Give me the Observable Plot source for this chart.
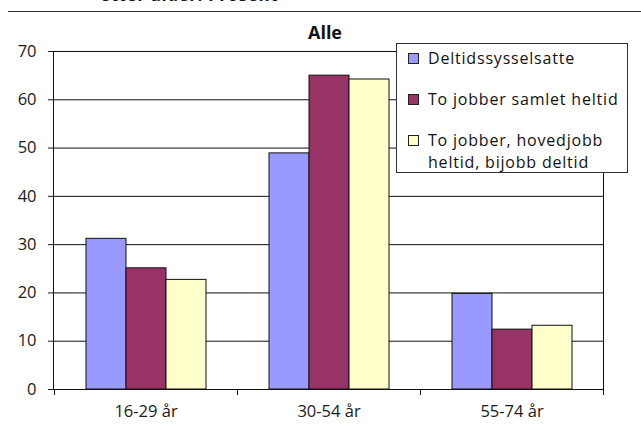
<!DOCTYPE html>
<html>
<head>
<meta charset="utf-8">
<script src="https://cdn.jsdelivr.net/npm/d3@7"></script>
<script src="https://cdn.jsdelivr.net/npm/@observablehq/plot@0.6"></script>
<style>
  html, body { margin: 0; padding: 0; background: #fff; }
  #wrap { position: relative; width: 641px; height: 430px; overflow: hidden; font-family: "Open Sans", sans-serif; color: #111; }
  #toptitle { position: absolute; left: 100px; top: -17px; font-weight: bold; font-size: 17px; letter-spacing: 0.6px; white-space: nowrap; }
  #topline { position: absolute; left: 8px; right: 0; top: 11px; height: 0; border-top: 1.5px solid #333; }
  #subtitle { position: absolute; left: 290px; width: 70px; top: 20px; text-align: center; font-weight: bold; font-size: 18px; }
  #legend { position: absolute; left: 396px; top: 43px; width: 232px; height: 130px; border: 1px solid #333; background: #fff; box-sizing: border-box; }
  .item { position: absolute; left: 11px; display: flex; align-items: flex-start; font-size: 16px; letter-spacing: 0.8px; line-height: 22px; }
  .sw { width: 9px; height: 9px; border: 1px solid #222; margin-top: 6px; margin-right: 9px; flex: none; }
  .lab { width: 200px; }
  #wrap svg { position: absolute; left: 0; top: 0; }
  #wrap svg text { font-size: 16.5px; font-family: "Open Sans", sans-serif; fill: #1a1a1a; }
</style>
</head>
<body>
<div id="wrap">
  <div id="toptitle">etter alder. Prosent</div>
  <div id="topline"></div>
  <div id="subtitle">Alle</div>
</div>
<script>
const groups = ["16-29 år", "30-54 år", "55-74 år"];
const series = ["Deltidssysselsatte", "To jobber samlet heltid", "To jobber, hovedjobb heltid, bijobb deltid"];
const deltid = [31.2, 48.9, 19.8];
const samlet = [25.1, 65.0, 12.4];
const hoved = [22.7, 64.2, 13.2];
const yTicks = [0, 10, 20, 30, 40, 50, 60, 70];
const gridTicks = [10, 20, 30, 40, 50, 60, 70];
const colors = ["#9999ff", "#993366", "#ffffcc"];

const valuesBySeries = [deltid, samlet, hoved];
const rows = [];
groups.forEach((g, i) => series.forEach((s, j) => rows.push({group: g, series: s, value: valuesBySeries[j][i]})));

const chart = Plot.plot({
  width: 641,
  height: 430,
  marginTop: 51,
  marginBottom: 41,
  marginLeft: 53,
  marginRight: 38,
  style: {fontFamily: "Open Sans, sans-serif", fontSize: "16.5px", color: "#1a1a1a", background: "transparent"},
  fx: {domain: groups, padding: 0, axis: "bottom", tickSize: 0, tickPadding: 16, label: null},
  x: {domain: series, axis: null, paddingInner: 0, paddingOuter: 0.745},
  y: {domain: [0, 70], ticks: yTicks, tickSize: 6, tickPadding: 12, label: null},
  color: {domain: series, range: colors},
  marks: [
    Plot.ruleY(gridTicks, {stroke: "#111", strokeWidth: 1}),
    Plot.barY(rows, {fx: "group", x: "series", y: "value", fill: "series", stroke: "#111", strokeWidth: 1}),
    Plot.ruleY([0], {stroke: "#111", strokeWidth: 1})
  ]
});

document.getElementById("wrap").appendChild(chart);

// frame lines and category separator ticks using Plot's own scales
const fx = chart.scale("fx");
const y = chart.scale("y");
const svg = d3.select(chart);
const x0 = fx.range[0], x1 = fx.range[1];
const yTop = y.apply(70), yBot = y.apply(0);
const g = svg.append("g").attr("stroke", "#111").attr("stroke-width", 1);
g.append("line").attr("x1", x0 + 0.5).attr("x2", x0 + 0.5).attr("y1", yTop).attr("y2", yBot);
g.append("line").attr("x1", x1 + 0.5).attr("x2", x1 + 0.5).attr("y1", yTop).attr("y2", yBot);
const edges = groups.map(d => fx.apply(d)).concat([x1]);
edges.forEach(xe => g.append("line").attr("x1", Math.round(xe) + 0.5).attr("x2", Math.round(xe) + 0.5).attr("y1", yBot).attr("y2", yBot + 6));

// legend
const legend = document.createElement("div");
legend.id = "legend";
const tops = [3, 44, 85];
series.forEach((s, i) => {
  const it = document.createElement("div");
  it.className = "item";
  it.style.top = tops[i] + "px";
  const sw = document.createElement("div");
  sw.className = "sw";
  sw.style.background = colors[i];
  const lab = document.createElement("div");
  lab.className = "lab";
  lab.textContent = s;
  it.appendChild(sw);
  it.appendChild(lab);
  legend.appendChild(it);
});
document.getElementById("wrap").appendChild(legend);
</script>
</body>
</html>
